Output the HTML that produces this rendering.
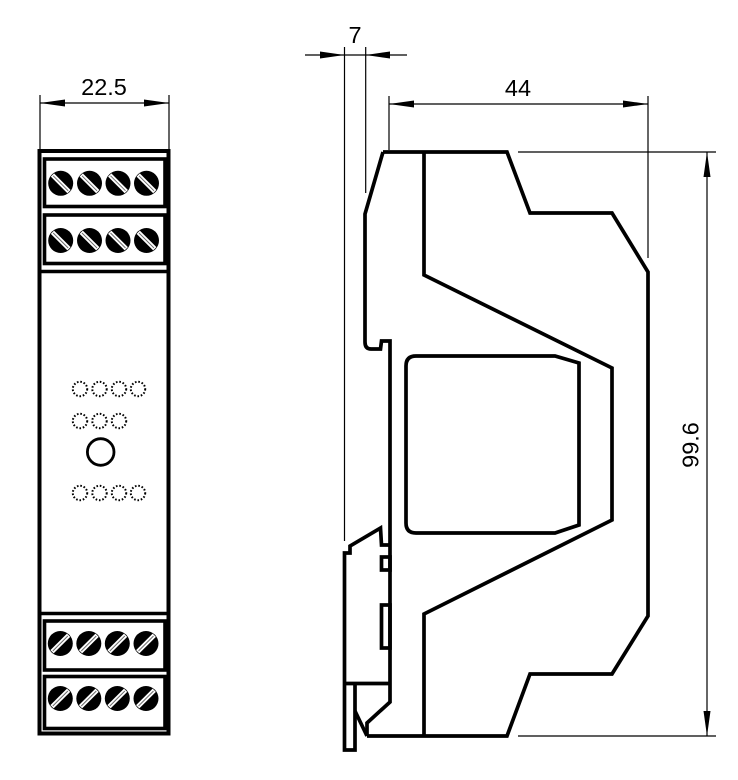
<!DOCTYPE html>
<html>
<head>
<meta charset="utf-8">
<style>
  html, body { margin:0; padding:0; background:#fff; }
  svg { display:block; }
  text { font-family: "Liberation Sans", Arial, sans-serif; font-size:23.5px; fill:#000; }
</style>
</head>
<body>
<svg width="738" height="780" viewBox="0 0 738 780" xmlns="http://www.w3.org/2000/svg">
  <defs>
    <g id="screwA">
      <circle r="12.5" fill="#000"/>
      <line x1="-8.3" y1="-8.3" x2="8.3" y2="8.3" stroke="#fff" stroke-width="4.6"/>
      <line x1="-7.5" y1="-7.5" x2="7.5" y2="7.5" stroke="#666" stroke-width="0.9"/>
    </g>
    <g id="screwB">
      <circle r="12.5" fill="#000"/>
      <line x1="-8.3" y1="8.3" x2="8.3" y2="-8.3" stroke="#fff" stroke-width="4.6"/>
      <line x1="-7.5" y1="7.5" x2="7.5" y2="-7.5" stroke="#666" stroke-width="0.9"/>
    </g>
  </defs>

  <!-- ============ FRONT VIEW ============ -->
  <g stroke="#000" stroke-width="1.2" fill="none">
    <line x1="40" y1="95" x2="40" y2="149"/>
    <line x1="169" y1="95" x2="169" y2="149"/>
    <line x1="40" y1="103" x2="169" y2="103"/>
  </g>
  <polygon points="40,103 65,99.5 65,106.5" fill="#000"/>
  <polygon points="169,103 144,99.5 144,106.5" fill="#000"/>
  <text x="104" y="95" text-anchor="middle">22.5</text>

  <rect x="39.5" y="151" width="129" height="582.5" fill="none" stroke="#000" stroke-width="4"/>
  <g fill="none" stroke="#000" stroke-width="3.6">
    <rect x="44.5" y="159" width="120.5" height="47.5"/>
    <rect x="44.5" y="215" width="120.5" height="48.5"/>
    <line x1="40" y1="271.5" x2="168" y2="271.5"/>
    <line x1="40" y1="613.5" x2="168" y2="613.5"/>
    <rect x="44.5" y="621" width="120.5" height="49"/>
    <rect x="44.5" y="676.5" width="120.5" height="52"/>
  </g>
  <use href="#screwA" x="60.7" y="183.3"/>
  <use href="#screwA" x="89.5" y="183.3"/>
  <use href="#screwA" x="118" y="183.3"/>
  <use href="#screwA" x="146.5" y="183.3"/>
  <use href="#screwA" x="60.7" y="240.5"/>
  <use href="#screwA" x="89.5" y="240.5"/>
  <use href="#screwA" x="118" y="240.5"/>
  <use href="#screwA" x="146.5" y="240.5"/>
  <use href="#screwB" x="60.3" y="643.5"/>
  <use href="#screwB" x="88.8" y="643.5"/>
  <use href="#screwB" x="117.3" y="643.5"/>
  <use href="#screwB" x="146" y="643.5"/>
  <use href="#screwB" x="60.3" y="698.5"/>
  <use href="#screwB" x="88.8" y="698.5"/>
  <use href="#screwB" x="117.3" y="698.5"/>
  <use href="#screwB" x="146" y="698.5"/>

  <g fill="none" stroke="#000" stroke-width="2" stroke-dasharray="1.6 1.8">
    <circle cx="80" cy="389" r="7.2"/>
    <circle cx="99.5" cy="389" r="7.2"/>
    <circle cx="119" cy="389" r="7.2"/>
    <circle cx="138" cy="389" r="7.2"/>
    <circle cx="80" cy="421" r="7.2"/>
    <circle cx="99.5" cy="421" r="7.2"/>
    <circle cx="119" cy="421" r="7.2"/>
    <circle cx="80" cy="493" r="7.2"/>
    <circle cx="99.5" cy="493" r="7.2"/>
    <circle cx="119" cy="493" r="7.2"/>
    <circle cx="138" cy="493" r="7.2"/>
  </g>
  <circle cx="100.7" cy="452" r="13.3" fill="none" stroke="#000" stroke-width="2.8"/>

  <!-- ============ SIDE VIEW ============ -->
  <g stroke="#000" stroke-width="1.2" fill="none">
    <line x1="305" y1="55" x2="407" y2="55"/>
    <line x1="344.5" y1="47" x2="344.5" y2="541"/>
    <line x1="365.7" y1="47" x2="365.7" y2="193"/>
  </g>
  <polygon points="344.5,55 320,51.5 320,58.5" fill="#000"/>
  <polygon points="365.7,55 390,51.5 390,58.5" fill="#000"/>
  <text x="355" y="43" text-anchor="middle">7</text>

  <g stroke="#000" stroke-width="1.2" fill="none">
    <line x1="389" y1="104" x2="648" y2="104"/>
    <line x1="389" y1="96" x2="389" y2="150"/>
    <line x1="648" y1="96" x2="648" y2="258"/>
  </g>
  <polygon points="389,104 414,100.5 414,107.5" fill="#000"/>
  <polygon points="648,104 623,100.5 623,107.5" fill="#000"/>
  <text x="518" y="96" text-anchor="middle">44</text>

  <g stroke="#000" stroke-width="1.2" fill="none">
    <line x1="518" y1="152" x2="716" y2="152"/>
    <line x1="518" y1="736" x2="716" y2="736"/>
    <line x1="707" y1="152" x2="707" y2="736"/>
  </g>
  <polygon points="707,152 703.5,177 710.5,177" fill="#000"/>
  <polygon points="707,736 703.5,711 710.5,711" fill="#000"/>
  <text x="0" y="0" text-anchor="middle" transform="translate(698.5,445) rotate(-90)">99.6</text>

  <g fill="none" stroke="#000" stroke-width="3.7" stroke-linejoin="miter">
    <polyline points="383,152 507,152 530,213 612,213 648,272 648,616 612,674 530,674 507,736 367,736"/>
    <path d="M383,152 L365,214 L365,342 Q365,349 371,349 L380.5,349 L381.5,341 L390,341 L390,702 L367,723 L367,736"/>
    <polyline points="424,152 424,275 612,368 612,520 424,614 424,736"/>
    <path d="M416,356 L555,356 L579,363 L579,525 L555,533 L416,533 Q406,533 406,523 L406,366 Q406,356 416,356 Z"/>
    <polyline points="390,545 381.5,545 380.5,528 350,546 350,553 344.5,553 344.5,750 355,750 355,683"/>
    <line x1="344.5" y1="683.5" x2="390" y2="683.5"/>
    <line x1="355" y1="711" x2="367" y2="736"/>
    <rect x="381.5" y="557" width="8.5" height="13"/>
    <rect x="381.5" y="605" width="8.5" height="43"/>
  </g>
</svg>
</body>
</html>
